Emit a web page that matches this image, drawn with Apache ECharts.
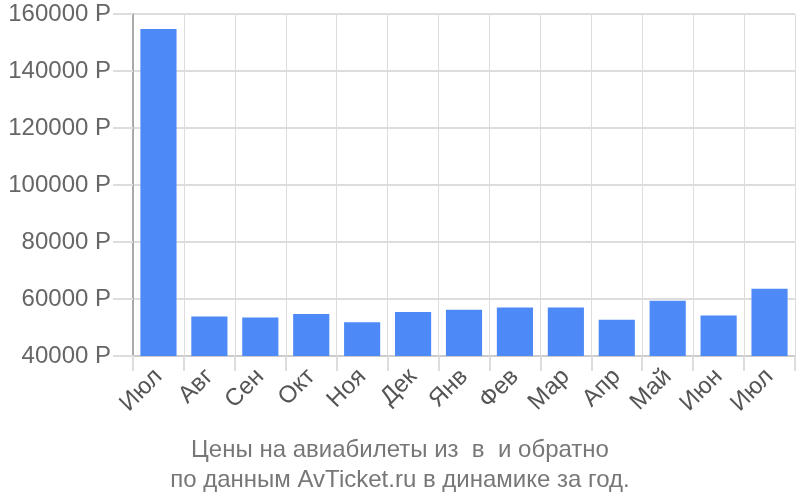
<!DOCTYPE html>
<html>
<head>
<meta charset="utf-8">
<script src="https://cdn.jsdelivr.net/npm/echarts@6/dist/echarts.min.js"></script>
<style>
  html, body { margin: 0; padding: 0; background: #fff; }
  #chart { width: 800px; height: 500px; }
</style>
</head>
<body>
<div id="chart"></div>
<script>
// месяцы
var months = ['Июл', 'Авг', 'Сен', 'Окт', 'Ноя', 'Дек', 'Янв', 'Фев', 'Мар', 'Апр', 'Май', 'Июн', 'Июл'];
// цены, руб.
var prices = [154700, 53900, 53500, 54700, 51800, 55400, 56200, 57000, 57000, 52700, 59400, 54200, 63600];
var titleLines = ['Цены на авиабилеты из  в  и обратно', 'по данным AvTicket.ru в динамике за год.'];

var myChart = echarts.init(document.getElementById('chart'));
var option = {
    backgroundColor: '#fff',
    animation: false,
    textStyle: { fontFamily: 'Liberation Sans' },
    title: {
        text: titleLines.join('\n'),
        left: 'center',
        top: 430,
        textStyle: {
            color: '#777',
            fontSize: 24,
            fontWeight: 'normal',
            lineHeight: 30,
            fontFamily: 'Liberation Sans'
        }
    },
    grid: {
        left: 133,
        right: 5,
        top: 14,
        bottom: 144
    },
    xAxis: {
        type: 'category',
        data: months,
        boundaryGap: true,
        axisLine: { show: true, lineStyle: { color: '#ccc', width: 2 } },
        axisTick: { show: true, length: 15, lineStyle: { color: '#ddd', width: 2 } },
        splitLine: { show: true, lineStyle: { color: '#ddd', width: 1 } },
        axisLabel: {
            color: '#555',
            fontSize: 24,
            rotate: 45,
            margin: 17,
            interval: 0
        }
    },
    yAxis: {
        type: 'value',
        min: 40000,
        max: 160000,
        interval: 20000,
        axisLine: { show: true, lineStyle: { color: '#aaa', width: 2 } },
        axisTick: { show: true, length: 20, lineStyle: { color: '#ddd', width: 2 } },
        splitLine: { show: true, lineStyle: { color: '#ddd', width: 2 } },
        axisLabel: {
            color: '#666',
            fontSize: 24,
            margin: 22,
            formatter: function (value) {
                return value + ' Р';
            }
        }
    },
    series: [{
        type: 'bar',
        data: prices,
        barWidth: '71%',
        itemStyle: { color: '#4d8af8' }
    }]
};
myChart.setOption(option);
</script>
</body>
</html>
